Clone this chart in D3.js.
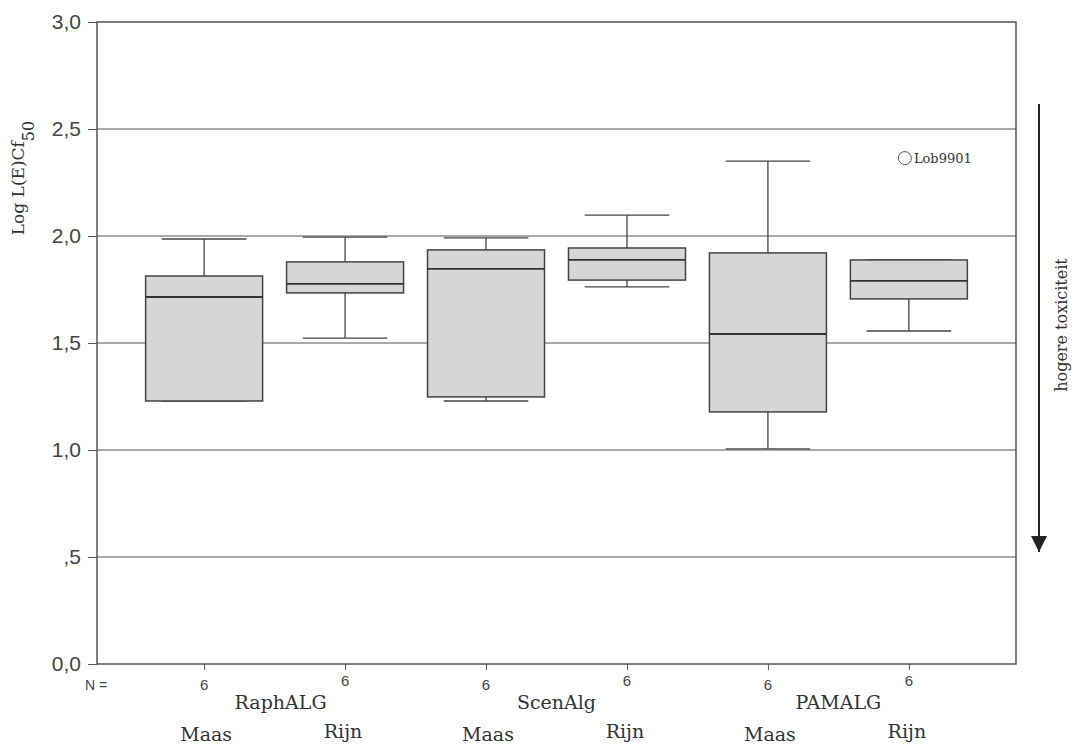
<!DOCTYPE html>
<html>
    <head>
        <title>Log L(E)Cf50 boxplot</title>
        <script src="https://d3js.org/d3.v7.min.js"></script>
        <style>
            body { margin: 0; background: #fff; }
            .tick-label { font-family: 'Liberation Sans', Arial, sans-serif; fill: #444; }
            .serif { font-family: 'DejaVu Serif', 'Liberation Serif', serif; fill: #333; }
            .grid { stroke: #555; stroke-width: 1; }
            .box { fill: #d6d6d6; stroke: #444; stroke-width: 1.5; }
        </style>
    </head>
    <body>
        <div id="chart"></div>
        <script>
            // data
            const groups = ['RaphALG', 'ScenAlg', 'PAMALG'];
            const sites = ['Maas', 'Rijn', 'Maas', 'Rijn', 'Maas', 'Rijn'];
            const counts = [6, 6, 6, 6, 6, 6];
            const whiskerHigh = [1.986, 1.995, 1.991, 2.098, 2.35, 1.888];
            const q3 = [1.813, 1.879, 1.935, 1.944, 1.921, 1.888];
            const median = [1.715, 1.776, 1.846, 1.888, 1.542, 1.79];
            const q1 = [1.229, 1.734, 1.248, 1.794, 1.178, 1.706];
            const whiskerLow = [1.229, 1.523, 1.229, 1.762, 1.005, 1.556];
            const outliers = [{ box: 5, value: 2.364, label: 'Lob9901' }];
            const yTicks = [0, 0.5, 1, 1.5, 2, 2.5, 3];
            const yTickLabels = ['0,0', ',5', '1,0', '1,5', '2,0', '2,5', '3,0'];

            const W = 1078, H = 746;
            const plotL = 97, plotR = 1016, plotT = 22, plotB = 664;

            const svg = d3.select('#chart').append('svg').attr('width', W).attr('height', H);

            const idx = d3.range(sites.length);
            const x = d3.scalePoint().domain(idx).range([plotL, plotR]).padding(0.76);
            const step = x.step();
            const y = d3.scaleLinear().domain([0, 3]).range([plotB, plotT]);

            // gridlines
            svg.selectAll('.grid')
                .data(yTicks.filter((d) => d > 0 && d < 3))
                .enter()
                .append('line')
                .attr('class', 'grid')
                .attr('x1', plotL)
                .attr('x2', plotR)
                .attr('y1', (d) => y(d))
                .attr('y2', (d) => y(d));

            // frame
            svg.append('rect')
                .attr('x', plotL)
                .attr('y', plotT)
                .attr('width', plotR - plotL)
                .attr('height', plotB - plotT)
                .attr('fill', 'none')
                .attr('stroke', '#555')
                .attr('stroke-width', 1.5);

            // y axis
            const yAxis = d3.axisLeft(y).tickValues(yTicks).tickSize(9).tickFormat((d, i) => yTickLabels[i]);
            const gy = svg.append('g').attr('transform', `translate(${plotL},0)`).call(yAxis);
            gy.select('.domain').remove();
            gy.selectAll('line').attr('stroke', '#555');
            gy.selectAll('text').attr('class', 'tick-label').attr('font-size', 21).attr('dx', -4).attr('fill', '#444');

            // x axis (ticks only)
            const xAxis = d3.axisBottom(x).tickSize(6).tickFormat(() => '');
            const gx = svg.append('g').attr('transform', `translate(0,${plotB})`).call(xAxis);
            gx.select('.domain').remove();
            gx.selectAll('line').attr('stroke', '#555');

            // N labels
            svg.append('text')
                .attr('class', 'tick-label')
                .attr('x', 96)
                .attr('y', 690)
                .attr('text-anchor', 'middle')
                .attr('font-size', 14)
                .attr('fill', '#888')
                .text('N =');
            svg.selectAll('.nlab')
                .data(counts)
                .enter()
                .append('text')
                .attr('class', 'tick-label nlab')
                .attr('x', (d, i) => x(i))
                .attr('y', (d, i) => (i % 2 ? 686 : 690))
                .attr('text-anchor', 'middle')
                .attr('font-size', 15)
                .attr('fill', '#888')
                .text((d) => d);

            // group labels
            svg.selectAll('.glab')
                .data(groups)
                .enter()
                .append('text')
                .attr('class', 'serif glab')
                .attr('x', (d, i) => (x(i * 2) + x(i * 2 + 1)) / 2 + (i === 0 ? 6 : 0))
                .attr('y', 709)
                .attr('text-anchor', 'middle')
                .attr('font-size', 19)
                .text((d) => d);

            // site labels
            svg.selectAll('.slab')
                .data(sites)
                .enter()
                .append('text')
                .attr('class', 'serif slab')
                .attr('x', (d, i) => x(i) + (i % 2 ? -2 : 2))
                .attr('y', (d, i) => (i % 2 ? 738 : 741))
                .attr('text-anchor', 'middle')
                .attr('font-size', 19)
                .text((d) => d);

            // boxes
            const boxW = step * 0.83, capW = step * 0.6;
            const g = svg.selectAll('.bx').data(idx).enter().append('g').attr('class', 'bx');
            g.append('line')
                .attr('x1', (i) => x(i))
                .attr('x2', (i) => x(i))
                .attr('y1', (i) => y(whiskerHigh[i]))
                .attr('y2', (i) => y(whiskerLow[i]))
                .attr('stroke', '#444')
                .attr('stroke-width', 1.3);
            g.append('line')
                .attr('x1', (i) => x(i) - capW / 2)
                .attr('x2', (i) => x(i) + capW / 2)
                .attr('y1', (i) => y(whiskerHigh[i]))
                .attr('y2', (i) => y(whiskerHigh[i]))
                .attr('stroke', '#444')
                .attr('stroke-width', 1.3);
            g.append('line')
                .attr('x1', (i) => x(i) - capW / 2)
                .attr('x2', (i) => x(i) + capW / 2)
                .attr('y1', (i) => y(whiskerLow[i]))
                .attr('y2', (i) => y(whiskerLow[i]))
                .attr('stroke', '#444')
                .attr('stroke-width', 1.3);
            g.append('rect')
                .attr('class', 'box')
                .attr('x', (i) => x(i) - boxW / 2)
                .attr('width', boxW)
                .attr('y', (i) => y(q3[i]))
                .attr('height', (i) => y(q1[i]) - y(q3[i]));
            g.append('line')
                .attr('x1', (i) => x(i) - boxW / 2)
                .attr('x2', (i) => x(i) + boxW / 2)
                .attr('y1', (i) => y(median[i]))
                .attr('y2', (i) => y(median[i]))
                .attr('stroke', '#333')
                .attr('stroke-width', 1.8);

            // outliers
            const og = svg.selectAll('.out').data(outliers).enter().append('g').attr('class', 'out');
            og.append('circle')
                .attr('cx', (d) => x(d.box) - 4)
                .attr('cy', (d) => y(d.value))
                .attr('r', 6.5)
                .attr('fill', '#fff')
                .attr('stroke', '#555')
                .attr('stroke-width', 1);
            og.append('text')
                .attr('class', 'serif')
                .attr('x', (d) => x(d.box) + 5)
                .attr('y', (d) => y(d.value) + 5)
                .attr('font-size', 13)
                .attr('fill', '#555')
                .text((d) => d.label);

            // y title
            const yt = svg.append('text')
                .attr('class', 'serif')
                .attr('transform', 'translate(24,178) rotate(-90)')
                .attr('text-anchor', 'middle')
                .attr('font-size', 17);
            yt.append('tspan').text('Log L(E)Cf');
            yt.append('tspan').attr('baseline-shift', 'sub').attr('font-size', 16).text('50');

            // arrow
            svg.append('defs')
                .append('marker')
                .attr('id', 'head')
                .attr('viewBox', '0 0 10 10')
                .attr('refX', 10)
                .attr('refY', 5)
                .attr('markerWidth', 16)
                .attr('markerHeight', 16)
                .attr('markerUnits', 'userSpaceOnUse')
                .attr('orient', 'auto')
                .append('path')
                .attr('d', 'M0,0L10,5L0,10Z')
                .attr('fill', '#222');
            svg.append('line')
                .attr('x1', 1039)
                .attr('x2', 1039)
                .attr('y1', 104)
                .attr('y2', 552)
                .attr('stroke', '#222')
                .attr('stroke-width', 2)
                .attr('marker-end', 'url(#head)');
            svg.append('text')
                .attr('class', 'serif')
                .attr('transform', 'translate(1067,325) rotate(-90)')
                .attr('text-anchor', 'middle')
                .attr('font-size', 16)
                .text('hogere toxiciteit');
        </script>
    </body>
</html>
